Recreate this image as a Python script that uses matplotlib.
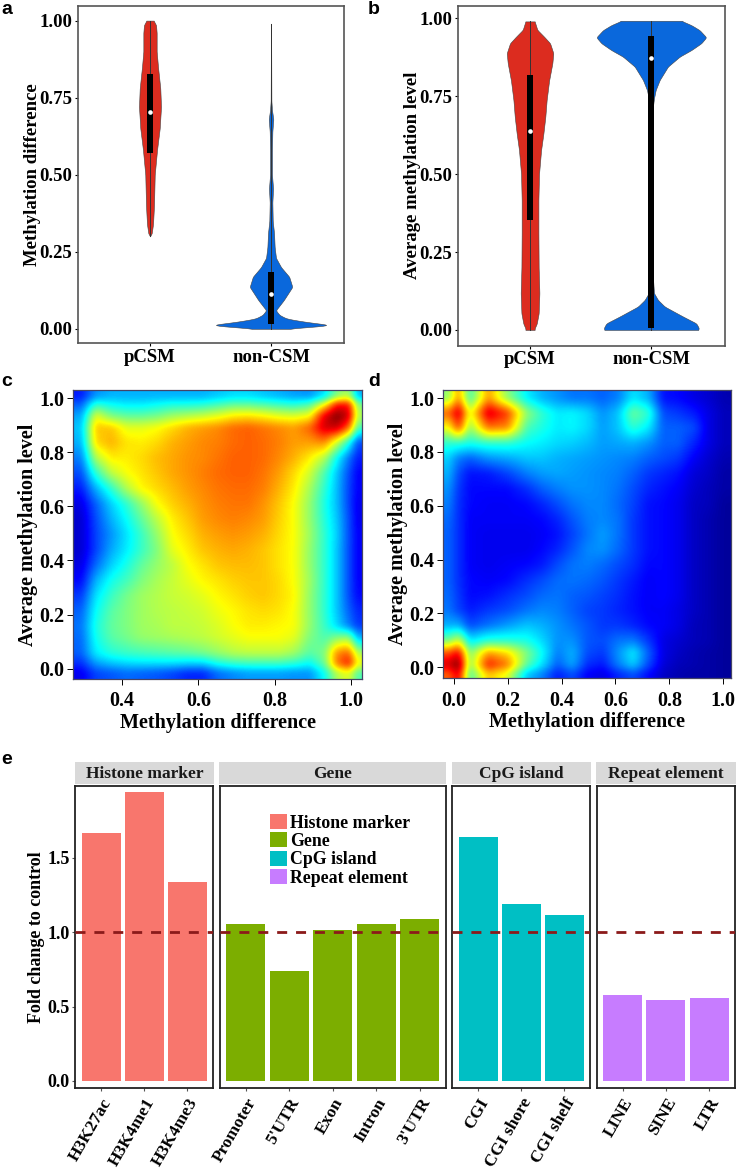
import numpy as np
import matplotlib
matplotlib.use('Agg')
import matplotlib.pyplot as plt
from matplotlib.colors import LinearSegmentedColormap
from matplotlib.patches import Patch

W, H = 746, 1170
SERIF = 'Liberation Serif'
plt.rcParams['font.family'] = SERIF
plt.rcParams['font.weight'] = 'bold'

# violin outlines: level, half width (in category units)
a_pcsm_y = [.30, .31, .34, .40, .50, .58, .65, .72, .78, .85, .90, .96, .985, 1.00]
a_pcsm_w = [0, .014, .025, .033, .039, .058, .080, .091, .085, .066, .055, .055, .050, .030]
a_non_y = [0, .004, .012, .023, .033, .045, .06, .093, .136, .169, .20, .23, .265, .31, .35,
           .41, .455, .50, .58, .64, .68, .71, .74, .99]
a_non_w = [.12, .26, .50, .28, .13, .07, .04, .105, .176, .15, .083, .041, .03, .025, .014,
           .011, .017, .008, .008, .011, .019, .008, .003, .001]
b_pcsm_y = [0, .005, .02, .053, .118, .20, .31, .417, .50, .577, .63, .684, .738, .80, .856,
            .888, .92, .94, .963, .99]
b_pcsm_w = [.038, .038, .055, .071, .077, .071, .069, .069, .074, .091, .11, .126, .137, .157, .184,
            .192, .165, .118, .06, .038]
b_non_y = [0, .005, .021, .043, .075, .096, .118, .20, .50, .70, .743, .77, .802, .845, .877,
           .898, .92, .939, .962, .978, .992]
b_non_w = [.385, .393, .371, .261, .11, .055, .022, .008, .008, .008, .022, .036, .069, .137, .234,
           .33, .412, .453, .398, .33, .247]

# box stats: low, high, median
a_pcsm_box = [.569, .827, .703]
a_non_box = [.015, .183, .114]
b_pcsm_box = [.354, .819, .637]
b_non_box = [.006, .943, .871]

c_x = [.290, .329, .369, .410, .449, .489, .530, .570, .609, .650, .690, .730, .770, .810, .850,
       .891, .930, .963, .994, 1.018]
c_y = [1.006, .975, .933, .890, .835, .778, .722, .665, .608, .552, .495, .438, .382, .325, .269,
       .214, .157, .114, .056, .019, -.017]
c_grid = [
    [.15, .27, .30, .30, .30, .30, .30, .30, .30, .32, .34, .34, .32, .30, .28, .27, .35, .50, .55, .30],
    [.22, .42, .38, .36, .36, .38, .40, .40, .41, .44, .47, .47, .45, .43, .41, .45, .62, .86, .86, .50],
    [.29, .60, .50, .47, .47, .49, .53, .55, .57, .60, .64, .65, .63, .60, .59, .62, .90, 1.0, .92, .55],
    [.32, .68, .68, .60, .60, .62, .66, .70, .72, .74, .77, .78, .76, .74, .72, .78, .92, .93, .78, .45],
    [.30, .66, .70, .65, .64, .66, .70, .72, .74, .75, .77, .78, .77, .75, .72, .72, .74, .58, .40, .20],
    [.25, .55, .64, .64, .66, .69, .71, .73, .74, .76, .78, .78, .77, .74, .70, .64, .55, .38, .24, .15],
    [.20, .42, .56, .62, .65, .68, .71, .73, .75, .77, .78, .78, .76, .72, .66, .58, .45, .32, .20, .12],
    [.15, .30, .42, .55, .63, .66, .69, .72, .74, .76, .77, .77, .75, .70, .64, .54, .42, .31, .19, .12],
    [.10, .22, .33, .42, .52, .62, .67, .70, .73, .75, .76, .76, .73, .68, .62, .52, .40, .31, .19, .11],
    [.08, .20, .30, .38, .47, .56, .64, .68, .72, .74, .75, .74, .72, .67, .62, .52, .41, .32, .20, .11],
    [.08, .19, .27, .35, .43, .52, .62, .66, .70, .72, .73, .72, .70, .66, .62, .53, .42, .33, .20, .12],
    [.08, .19, .29, .36, .43, .50, .60, .64, .68, .70, .71, .70, .68, .65, .62, .52, .42, .32, .20, .12],
    [.10, .23, .33, .40, .47, .52, .56, .62, .65, .68, .69, .69, .68, .65, .62, .52, .42, .32, .20, .12],
    [.13, .30, .39, .44, .50, .54, .57, .60, .63, .65, .67, .68, .68, .66, .62, .53, .42, .32, .20, .12],
    [.18, .35, .43, .49, .53, .55, .57, .58, .60, .63, .65, .67, .68, .66, .63, .52, .42, .32, .20, .13],
    [.22, .38, .46, .50, .53, .55, .56, .57, .58, .61, .63, .65, .66, .65, .62, .52, .42, .32, .22, .16],
    [.24, .40, .47, .50, .53, .54, .56, .56, .57, .59, .62, .64, .64, .63, .62, .52, .43, .34, .25, .18],
    [.23, .39, .46, .49, .52, .53, .54, .55, .56, .58, .60, .62, .62, .62, .60, .50, .45, .50, .52, .30],
    [.22, .36, .41, .43, .44, .45, .46, .47, .49, .52, .55, .56, .56, .56, .53, .46, .50, .74, .78, .55],
    [.17, .28, .32, .34, .35, .35, .35, .34, .34, .40, .43, .44, .44, .44, .42, .38, .48, .76, .86, .62],
    [.11, .19, .21, .23, .22, .21, .19, .16, .16, .23, .26, .28, .28, .28, .27, .27, .38, .55, .60, .45],
]
d_x = [-.021, .016, .059, .127, .196, .270, .327, .383, .439, .495, .552, .608, .665, .721, .777,
       .832, .890, .945, 1.002]
d_y = [1.0, .943, .889, .832, .775, .719, .662, .605, .549, .492, .435, .379, .322, .265, .210,
       .153, .096, .052, .009, -.028]
d_grid = [
    [.52, .72, .44, .72, .52, .36, .30, .27, .24, .24, .22, .25, .35, .30, .14, .13, .10, .08, .05],
    [.78, .92, .60, .92, .82, .52, .42, .36, .37, .34, .27, .32, .48, .42, .20, .18, .15, .10, .06],
    [.62, .80, .52, .76, .74, .45, .40, .36, .37, .34, .28, .32, .42, .36, .22, .22, .20, .10, .06],
    [.42, .42, .40, .42, .42, .38, .36, .34, .33, .31, .28, .29, .30, .27, .22, .22, .16, .10, .06],
    [.33, .25, .22, .27, .29, .32, .32, .30, .29, .28, .27, .26, .25, .22, .20, .18, .12, .08, .05],
    [.30, .20, .14, .15, .19, .25, .28, .29, .28, .27, .26, .25, .22, .18, .16, .14, .09, .07, .04],
    [.27, .18, .13, .13, .13, .17, .22, .25, .27, .27, .26, .24, .20, .16, .14, .12, .08, .06, .04],
    [.25, .17, .13, .12, .12, .13, .16, .20, .24, .26, .26, .23, .19, .14, .13, .11, .07, .06, .03],
    [.23, .17, .12, .12, .12, .12, .13, .16, .21, .25, .26, .24, .18, .14, .13, .11, .07, .05, .03],
    [.22, .17, .12, .11, .11, .11, .12, .14, .19, .24, .28, .24, .18, .14, .13, .11, .07, .05, .03],
    [.22, .17, .12, .11, .11, .11, .13, .16, .21, .26, .27, .23, .18, .14, .13, .11, .07, .05, .03],
    [.22, .17, .12, .11, .12, .13, .15, .20, .24, .25, .23, .20, .17, .13, .13, .11, .07, .05, .03],
    [.22, .17, .13, .12, .13, .17, .20, .23, .24, .23, .21, .18, .15, .12, .13, .11, .07, .05, .03],
    [.23, .18, .13, .14, .17, .20, .23, .24, .22, .21, .19, .17, .14, .12, .13, .11, .07, .05, .03],
    [.24, .19, .15, .18, .20, .24, .26, .25, .22, .19, .18, .16, .14, .12, .12, .10, .07, .05, .03],
    [.30, .30, .20, .24, .28, .32, .30, .27, .24, .21, .18, .18, .16, .13, .12, .10, .06, .05, .03],
    [.50, .60, .36, .42, .42, .40, .34, .27, .27, .21, .20, .24, .25, .18, .10, .08, .06, .05, .03],
    [.80, .88, .50, .72, .66, .50, .38, .25, .30, .20, .18, .27, .36, .22, .10, .07, .05, .04, .03],
    [.92, 1.0, .52, .85, .76, .47, .35, .22, .29, .17, .15, .25, .33, .20, .09, .06, .05, .04, .03],
    [.78, .90, .45, .68, .60, .32, .25, .15, .20, .12, .10, .16, .20, .13, .07, .05, .04, .04, .03],
]
ramp_colors = ['#00007F', '#0000FF', '#007FFF', '#00FFFF', '#7FFF7F', '#FFFF00', '#FF7F00', '#FF0000', '#7F0000']

# panel e
facet_names = ['Histone marker', 'Gene', 'CpG island', 'Repeat element']
facet_colors = ['#F8766D', '#7CAE00', '#00BFC4', '#C77CFF']
histone_labels = ['H3K27ac', 'H3K4me1', 'H3K4me3']
histone_values = [1.668, 1.939, 1.337]
gene_labels = ['Promoter', "5'UTR", 'Exon', 'Intron', "3'UTR"]
gene_values = [1.057, 0.741, 1.012, 1.054, 1.086]
cpg_labels = ['CGI', 'CGI shore', 'CGI shelf']
cpg_values = [1.637, 1.191, 1.113]
repeat_labels = ['LINE', 'SINE', 'LTR']
repeat_values = [0.578, 0.544, 0.557]


def px_axes(fig, left, top, right, bottom):
    return fig.add_axes([left / W, 1 - bottom / H, (right - left) / W, (bottom - top) / H])


def style_frame(ax, color='#555555', lw=1.2):
    for s in ax.spines.values():
        s.set_color(color)
        s.set_linewidth(lw)


def soften(values, n):
    # small moving average, twice, keeps the ends in place
    kernel = np.ones(n) / n
    for _ in range(2):
        padded = np.pad(values, n // 2, mode='edge')
        values = np.convolve(padded, kernel, mode='valid')
    return values


def violin(ax, x, ys, ws, box, color):
    yy = np.linspace(min(ys), max(ys), 500)
    ww = soften(np.interp(yy, ys, ws), 3)
    ax.fill_betweenx(yy, x - ww, x + ww, facecolor=color, edgecolor='#444444', linewidth=0.4, zorder=2)
    ax.plot([x, x], [yy.min(), yy.max()], color='#333333', lw=0.7, zorder=3)
    ax.bar(x, box[1] - box[0], bottom=box[0], width=0.05, color='black', zorder=4)
    ax.scatter([x], [box[2]], s=11, color='white', zorder=5, linewidths=0)


def violin_panel(ax, first, second, ylabel, ylim, xlim):
    violin(ax, 1, first[0], first[1], first[2], '#DC2C1F')
    violin(ax, 2, second[0], second[1], second[2], '#0A68DC')
    ax.set_xlim(xlim)
    ax.set_ylim(ylim)
    ax.set_xticks([1, 2], ['pCSM', 'non-CSM'])
    ax.set_yticks([0, .25, .5, .75, 1], ['0.00', '0.25', '0.50', '0.75', '1.00'])
    ax.tick_params(axis='y', labelsize=13.5, length=2.5, width=0.8, pad=1.5)
    ax.tick_params(axis='x', labelsize=13.5, length=2.5, width=0.8, pad=1.5)
    ax.set_ylabel(ylabel, fontsize=13.5, fontweight='bold', labelpad=-1)
    style_frame(ax)


def heat_panel(ax, grid, xs, ys, cmap, xlim, ylim, xticks):
    # grid nodes are not evenly spaced, so resample them onto the plot area first
    fine_x = np.linspace(xlim[0], xlim[1], 290)
    fine_y = np.linspace(ylim[1], ylim[0], 290)
    grid = np.array(grid)
    by_row = np.array([np.interp(fine_x, xs, row) for row in grid])
    img = np.array([np.interp(-fine_y, -np.array(ys), by_row[:, j]) for j in range(290)]).T
    img = np.array([soften(r, 7) for r in img])
    img = np.array([soften(c, 7) for c in img.T]).T
    ax.imshow(img, cmap=cmap, vmin=0, vmax=1, aspect='auto', origin='upper',
              extent=[xlim[0], xlim[1], ylim[0], ylim[1]], interpolation='bilinear')
    ax.set_xticks(xticks, [f'{t:.1f}' for t in xticks])
    ax.set_yticks([0, .2, .4, .6, .8, 1], ['0.0', '0.2', '0.4', '0.6', '0.8', '1.0'])
    ax.tick_params(axis='y', labelsize=14.5, length=4, width=0.7, pad=2)
    ax.tick_params(axis='x', labelsize=14.5, length=4, width=0.7, pad=5)
    ax.set_xlabel('Methylation difference', fontsize=14.5, fontweight='bold', labelpad=1)
    ax.set_ylabel('Average methylation level', fontsize=14.5, fontweight='bold', labelpad=1)
    style_frame(ax, '#444466', 0.9)


fig = plt.figure(figsize=(W / 100, H / 100), dpi=100)

ax_a = px_axes(fig, 78, 5.5, 344, 343)
violin_panel(ax_a, (a_pcsm_y, a_pcsm_w, a_pcsm_box), (a_non_y, a_non_w, a_non_box),
             'Methylation difference', (-.046, 1.049), (.405, 2.603))

ax_b = px_axes(fig, 458, 5.5, 724.7, 345.5)
violin_panel(ax_b, (b_pcsm_y, b_pcsm_w, b_pcsm_box), (b_non_y, b_non_w, b_non_box),
             'Average methylation level', (-.05, 1.041), (.406, 2.605))

ramp = LinearSegmentedColormap.from_list('ramp', ramp_colors)
ax_c = px_axes(fig, 72.7, 390, 362.3, 679)
heat_panel(ax_c, c_grid, c_x, c_y, ramp, (.27, 1.03), (-.038, 1.03), [.4, .6, .8, 1.0])
ax_d = px_axes(fig, 443, 390, 731.3, 678)
heat_panel(ax_d, d_grid, d_x, d_y, ramp, (-.04, 1.03), (-.04, 1.03), [0, .2, .4, .6, .8, 1.0])

# facets of panel e
facet_px = [(75.3, 213.3), (219.7, 445.7), (452.3, 590.3), (596.7, 735)]
facet_data = [(histone_labels, histone_values), (gene_labels, gene_values),
              (cpg_labels, cpg_values), (repeat_labels, repeat_values)]
for i, name in enumerate(facet_names):
    left, right = facet_px[i]
    labels, values = facet_data[i]
    ax = px_axes(fig, left, 785.7, right, 1087.7)
    pos = np.arange(1, len(labels) + 1)
    ax.bar(pos, values, width=0.9, color=facet_colors[i])
    ax.axhline(1.0, color='#8B1A1A', lw=2, dashes=(3.6, 3.2), zorder=5)
    ax.set_xlim(.4, len(labels) + .6)
    ax.set_ylim(-.045, 1.983)
    ax.set_xticks(pos, labels, rotation=60, ha='right', va='top', rotation_mode='anchor')
    ax.tick_params(axis='x', labelsize=12.5, length=2.5, width=0.8, pad=3, color='#555555')
    if i == 0:
        ax.set_yticks([0, .5, 1, 1.5], ['0.0', '0.5', '1.0', '1.5'])
        ax.tick_params(axis='y', labelsize=13, length=2.5, width=0.8, pad=1.5, color='#555555')
        ax.set_ylabel('Fold change to control', fontsize=13, fontweight='bold', labelpad=2)
    else:
        ax.set_yticks([])
    style_frame(ax, '#222222', 1.3)
    strip = px_axes(fig, left - 0.5, 761.7, right + 0.5, 784.3)
    strip.set_facecolor('#D9D9D9')
    strip.set_xticks([])
    strip.set_yticks([])
    for s in strip.spines.values():
        s.set_visible(False)
    strip.text(.5, .47, name, transform=strip.transAxes, ha='center', va='center',
               fontsize=12.5, fontweight='bold', color='#1A1A1A')

handles = [Patch(facecolor=c, edgecolor='none', label=n) for c, n in zip(facet_colors, facet_names)]
fig.legend(handles=handles, loc='upper left', bbox_to_anchor=(270 / W, 1 - 814 / H), frameon=False,
           fontsize=12.8, handlelength=0.95, handleheight=0.9, labelspacing=0.05, handletextpad=0.2,
           borderpad=0, borderaxespad=0)

# panel letters
for letter, x, y in [('a', 1, 10), ('b', 368, 10), ('c', 1, 381), ('d', 368, 381), ('e', 1, 760)]:
    fig.text(x / W, 1 - y / H, letter, fontsize=14, fontweight='bold', family='Liberation Sans',
             ha='left', va='center')

fig.savefig('out.png', dpi=100)
